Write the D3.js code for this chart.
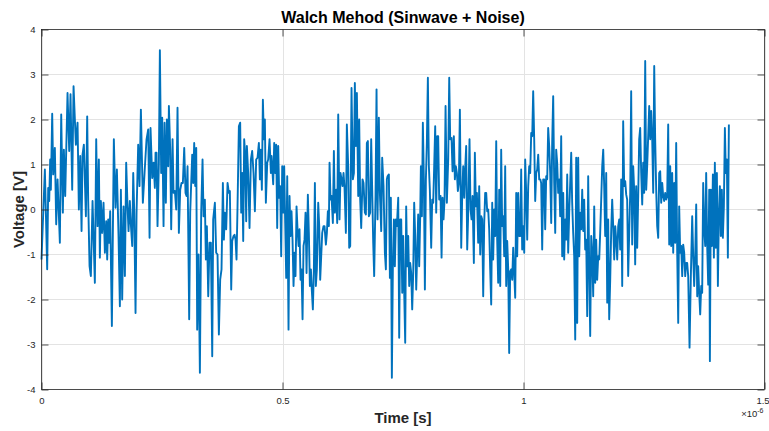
<!DOCTYPE html>
<html>
<head>
<meta charset="utf-8">
<script src="https://cdn.jsdelivr.net/npm/d3@7"></script>
<style>
  html, body { margin: 0; padding: 0; background: #fff; }
  svg { display: block; font-family: "Liberation Sans", Arial, Helvetica, sans-serif; }
</style>
</head>
<body>
<svg id="chart" width="769" height="431"></svg>
<script>
// ---- labels and ticks ----
const titleText = "Walch Mehod (Sinwave + Noise)";
const xLabel = "Time [s]";
const yLabel = "Voltage [V]";
const xTicks = [0, 0.5e-6, 1e-6, 1.5e-6];
const yTicks = [-4, -3, -2, -1, 0, 1, 2, 3, 4];
const xDomain = [0, 1.5e-6];
const yDomain = [-4, 4];

// ---- recorded signal: sample times (ns) and voltages (V) ----
const timeNs = [
  0, 7.0, 11.8, 13.9, 16.0, 18.0, 19.4, 22.2, 24.3, 27.7, 30.5, 33.3, 38.1, 40.9, 44.3, 46.4, 49.2, 54.0, 57.5, 60.2,
  63.7, 66.5, 71.3, 74.8, 77.5, 80.3, 83.1, 85.1, 87.9, 92.1, 94.8, 96.9, 99.7, 102.4, 105.9, 110.7, 113.5, 116.3,
  119.0, 121.1, 123.2, 125.9, 128.7, 131.5, 134.2, 136.3, 138.4, 140.5, 142.5, 146.0, 150.1, 153.6, 156.4, 159.8,
  162.6, 164.7, 167.4, 170.2, 173.0, 175.7, 178.5, 180.6, 183.3, 185.4, 188.2, 190.3, 192.3, 195.1, 197.2, 200.6,
  203.4, 206.2, 210.3, 213.8, 217.9, 221.4, 224.2, 226.2, 229.7, 232.5, 235.2, 236.6,
  238.7, 240.7, 243.5, 245.6, 248.3, 250.4, 253.2, 255.3, 258.0, 260.1, 262.9, 264.3, 267.0, 269.1, 271.9, 273.9,
  276.7, 279.5, 282.2, 285.0, 287.8, 290.5, 293.3, 296.1, 298.8, 300.9, 303.0, 306.4, 308.5, 310.6, 312.7, 314.7,
  316.8, 318.9, 321.0, 323.0, 325.8, 328.6, 331.3, 334.1, 336.2, 338.9, 341.0, 343.1, 345.9, 348.6, 351.4, 354.2, 356.2,
  359.7, 362.4, 365.2, 368.0, 370.7, 373.5, 376.3, 378.4, 380.4, 383.2, 386.0, 388.7, 390.8, 393.6, 395.6, 398.4,
  400.5, 402.6, 404.6, 406.7, 409.5, 412.2, 414.3, 416.4, 418.5, 420.5, 422.6, 424.7, 426.1, 428.8, 431.6, 434.4,
  437.1, 439.9, 442.7, 445.4, 448.2, 451.0, 453.1, 455.1, 457.2, 459.3, 461.4, 463.4, 465.5, 468.3, 470.3, 473.1, 475.9, 477.3,
  480.7, 482.8, 484.9, 486.9, 489.0, 491.1, 493.2, 495.2, 497.3, 499.4, 501.5, 503.5, 505.6, 507.7, 509.8, 512.5,
  514.6, 516.7, 518.7, 520.8, 522.9, 525.0, 527.0, 529.1, 531.2, 533.3, 535.3, 537.4, 539.5, 541.6, 543.6, 545.7,
  547.8, 549.9, 552.6, 554.7, 556.8, 558.9, 560.9, 563.0, 565.1, 567.2, 569.2, 571.3, 574.1, 576.2, 578.2, 580.3,
  582.4, 585.1, 587.2, 590.0, 592.1, 594.1, 596.2, 597.6,
  599.7, 601.7, 604.5, 606.6, 608.6, 611.4, 613.5, 615.6, 618.3, 620.4, 622.5, 624.5, 626.6, 628.7, 631.5, 633.5,
  636.3, 638.4, 640.5, 643.2, 646.0, 648.1, 650.1, 652.2, 654.3, 657.1, 659.1, 661.2, 663.3, 666.0, 668.1, 670.9,
  673.0, 675.0, 677.1, 679.2, 681.9, 684.0, 686.1, 688.2, 690.2, 693.0, 695.1, 697.2, 699.9, 702.0, 704.8, 706.8,
  709.6, 712.4, 714.5, 716.5, 717.9,
  720.7, 722.8, 724.8, 726.9, 729.0, 731.1, 733.1, 735.2, 737.3, 740.1, 742.1, 744.2, 746.3, 748.4, 750.4, 752.5,
  754.6, 756.6, 758.7, 760.8, 762.9, 764.9, 767.0, 769.1, 771.2, 773.2, 775.3, 777.4, 779.5, 781.5, 783.6, 785.7,
  787.1, 789.2, 791.2, 793.3, 795.4, 797.5, 799.5, 801.6, 803.7, 805.7, 808.5, 810.6, 812.7, 814.7, 816.8, 818.9,
  821.0, 823.0, 825.1, 827.9, 830.0, 832.0, 834.1, 836.2, 838.3,
  841.0, 843.8, 845.9, 847.9, 850.7, 852.8, 855.5, 857.6, 859.7, 861.8, 863.8, 865.9, 868.0, 870.8, 872.8, 874.9,
  877.0, 879.1, 881.1, 883.2, 885.3, 888.0, 890.1, 892.2, 894.3, 897.0, 899.1, 901.2, 903.3, 906.0, 908.1, 910.2,
  912.3, 914.3, 916.4, 918.5, 920.5, 922.6, 924.7, 926.8, 928.8, 930.9, 933.0, 935.1, 937.1, 939.2, 941.3, 943.4,
  945.4, 947.5, 949.6, 951.7, 953.7, 955.8, 957.9, 960.0,
  962.0, 964.1, 966.2, 968.3, 970.3, 972.4, 974.5, 976.6, 978.6, 980.7, 982.8, 984.9, 986.9, 989.0, 991.1, 993.2,
  995.2, 997.3, 999.4, 1001.5, 1003.5, 1005.6, 1007.7, 1009.8, 1011.8, 1013.9, 1016.0, 1018.1, 1020.1, 1022.2,
  1024.3, 1026.4, 1028.4, 1030.5, 1032.6, 1034.7, 1036.7, 1038.8, 1040.9, 1043.0, 1045.0, 1047.1, 1049.2, 1051.2,
  1053.3, 1055.4, 1057.5, 1059.5, 1061.6, 1063.7, 1065.8, 1067.8, 1069.9, 1072.0, 1074.1, 1076.1, 1078.2, 1080.3,
  1082.4, 1084.4, 1086.5, 1088.6, 1090.7, 1092.7, 1094.8, 1096.9, 1099.0, 1101.0, 1103.1, 1105.2, 1107.3, 1109.3,
  1111.4, 1113.5, 1115.6, 1117.6, 1119.7, 1121.8, 1123.9, 1125.9, 1128.0, 1130.1, 1132.2, 1134.2, 1136.3, 1138.4,
  1140.5, 1142.5, 1144.6, 1146.7, 1148.8, 1150.8, 1152.9, 1155.0, 1157.1, 1159.1, 1161.2, 1163.3, 1165.4, 1167.4,
  1169.5, 1171.6, 1173.7, 1175.7, 1177.8, 1179.9, 1182.0, 1184.0, 1186.1, 1188.2, 1190.3, 1192.3, 1194.4, 1196.5,
  1198.6, 1200.6,
  1202.7, 1204.8, 1206.8, 1208.9, 1211.0, 1213.1, 1215.1, 1217.2, 1219.3, 1221.4, 1223.4, 1225.5, 1227.6, 1229.7,
  1231.7, 1233.8, 1235.9, 1238.0, 1240.0, 1242.1, 1244.2, 1246.3, 1248.3, 1250.4, 1252.5, 1254.6, 1256.6, 1258.7,
  1260.8, 1262.9, 1264.9, 1267.0, 1269.1, 1271.2, 1273.2, 1275.3, 1277.4, 1279.5, 1281.5, 1283.6, 1285.7, 1287.8,
  1289.8, 1291.9, 1294.0, 1296.1, 1298.1, 1300.2, 1302.3, 1304.4, 1306.4, 1308.5, 1310.6, 1312.7, 1314.7, 1316.8,
  1318.9, 1321.0,
  1323.0, 1325.1, 1327.2, 1329.3, 1331.3, 1333.4, 1335.5, 1337.5, 1339.6, 1341.7, 1344.5, 1347.2, 1350.0, 1352.1,
  1354.1, 1356.2, 1358.3, 1360.4, 1362.4, 1364.5, 1366.6, 1368.7, 1370.7, 1372.8, 1374.9, 1377.0, 1379.0, 1381.1,
  1383.2, 1385.3, 1386.7, 1388.7, 1390.8, 1392.9, 1395.0, 1397.0, 1399.1, 1401.2, 1403.3, 1405.3, 1407.4, 1409.5,
  1411.5, 1413.6, 1415.7, 1417.8, 1419.8, 1421.9, 1424.0, 1426.1
];

const voltage = [
  -1.11, 0.89, -1.33, 0.48, 0.19, 1.11, 0.44, 2.13, 0.78, 1.37, -0.33, 0.67, -0.74, 2.11, -0.07, 1.33, 0.30, 2.59, 1.30, 2.56,
  0.44, 2.74, 1.44, 1.93, 0.00, 1.19, -0.48, 1.22, 1.44, -0.15, 2.07, 0.19, -1.26, -1.48, 0.19, -1.63, 1.56, -0.37,
  1.11, -1.07, 0.19, -0.52, 0.15, -0.96, -0.26, -1.11, -0.22, -0.74, -0.04, -2.59, 1.56, 0.04, 0.89, -0.59,
  -2.15, 0.44, -2.00, 0.07, -1.48, 1.04, 0.07, -0.48, 0.19, -0.33, -0.81, 0.81, 0.00, -2.30, -0.07, 1.44,
  0.52, 2.22, 0.15, 0.81, 1.56, 1.78, -0.63, 1.81, 0.70, 1.04, 0.48, 1.26,
  1.26, -0.37, 1.04, 3.54, 0.81, 2.04, -0.37, 1.93, 0.15, 2.00, 0.96, 2.30, 1.33, -0.44, 1.56, 0.37,
  0.41, 0.00, 2.26, -0.52, 0.44, 0.59, 0.59, 1.37, 0.37, 0.30, 0.96, -2.44, -0.07, 0.59, 1.22, 0.59,
  1.48, 0.52, 1.37, -2.67, -1.00, -3.63, -0.07, 1.11, -0.15, 0.22, -1.11, -0.37, -1.93, -0.74, -0.74, -3.26, -0.22,
  0.15, -0.96, -1.00, -2.78, -1.56, -1.33, 0.59, -0.67, -0.07, -0.44, 0.59, 0.37, 0.41, -1.78, -0.70, -0.59,
  -0.56, -0.67, -1.11, 0.07, 1.85, 1.93, -0.07, 0.81, -0.70, 1.56, 1.22, -0.26, 1.41, 0.81, -0.41, 1.11,
  1.30, 0.81, -0.04, 1.11, 1.15, 1.48, 0.67, 1.33, 0.44, 2.44, 1.56, 2.00, 0.15, 1.04, 1.11, 1.56, 0.81, 1.19,
  0.56, 1.48, 0.81, 1.44, -0.41, 1.41, 0.26, 0.52, -1.04, 0.96, -0.07, 0.96, -0.30, -1.52, 0.74, -2.67,
  0.30, -0.59, -0.04, -0.67, -1.70, -0.96, -1.48, 0.07, -0.44, -0.81, -0.44, -1.56, -1.33, -2.44, -0.81, -0.67,
  -0.07, -1.41, 0.33, -0.52, -1.70, -1.33, -1.81, -2.22, -1.33, 0.59, -1.70, -1.33, 0.15, -0.37, -1.56, -1.04,
  -0.52, -0.37, -0.37, -0.78, -0.52, -0.04, -0.37, 1.04,
  0.22, 0.30, -0.30, 1.30, -0.07, 0.44, -0.30, 2.11, -0.22, 0.81, 0.67, 0.52, 0.81, 0.48, -0.52, 1.89,
  0.96, -0.85, -0.81, 2.70, 0.67, 0.81, 2.81, 1.41, 2.59, 0.30, 2.00, 0.22, -0.41, 0.67, 0.59, -0.07,
  -0.11, 1.48, 1.52, -0.15, -0.07, 1.56, 0.44, -0.74, -1.48, 0.30, 2.67, -0.22, 2.04, 0.37, -0.48, 1.15,
  0.52, -0.96, -1.33, 0.67, 0.74,
  0.78, -1.52, 0.26, -3.74, -1.26, -0.22, -1.26, -0.22, -0.37, 0.26, -2.85, -0.22, -0.22, -1.85, -0.59, -1.85,
  -2.96, 0.07, -1.26, -0.59, -1.70, -1.19, -1.41, -2.22, -1.41, 0.15, -0.59, -1.78, -0.96, -0.11, -1.26, -0.15,
  0.96, -0.15, 1.93, 0.67, -1.78, 0.67, 1.48, 2.93, 0.96, 0.44, -0.85, 0.22, 0.15, 0.96, 1.85, -0.07,
  1.63, 1.63, 0.22, 0.30, -1.07, 0.26, -0.22, 0.22, 2.30,
  0.15, 1.11, 2.93, 1.56, 1.59, 0.85, 1.63, 0.67, 0.96, 0.81, 0.41, 0.59, 2.22, -0.85, 0.30, 0.96,
  0.26, 0.93, 1.41, -0.89, -0.07, 1.56, 0.00, -0.22, 0.30, -1.19, 1.26, 0.07, 0.37, -0.74, 0.52, -1.00,
  -0.15, -0.22, -1.93, -0.30, 0.37, 0.37, -0.04, 0.00, -0.44, -1.33, -2.11, 0.15, -1.11, 0.00, -0.59, 1.52,
  -0.67, -1.63, 0.44, -1.70, 1.33, -0.37, -0.15, -1.04,
  0.96, -1.70, -0.70, -1.33, -3.19, -1.37, -1.33, -1.56, -0.85, -1.41, -1.96, 0.37, -1.04, 0.37, -0.59, -0.59,
  0.89, -0.89, -0.37, -0.96, 1.11, 0.37, -0.67, 0.52, 0.96, 0.81, 1.70, 1.63, 2.63, 1.56,
  0.19, 0.81, 0.89, 1.22, 0.67, 0.67, 0.59, -0.89, 0.67, 0.67, -0.44, 0.74, 0.67, 1.81,
  1.41, 0.81, -0.30, 1.48, 2.52, 0.59, -0.52, 1.33, 1.04, 0.37, 0.67, -0.15, 1.63, -1.04,
  0.37, -1.11, -0.22, -0.67, 0.78, -0.96, -0.07, 0.59, 1.26, 0.15, -0.52, -1.04, -2.89, 1.15,
  -2.52, 1.15, -1.04, -0.07, -0.44, 0.44, -0.48, 0.22, -0.89, -0.67, -2.37, 0.74, -1.26, -2.81,
  -0.59, -0.96, -1.93, 0.07, -1.63, -0.67, -1.56, -1.04, -1.11, -0.52, 0.22, 0.96, 1.33, 0.52,
  -0.59, 0.81, -2.07, -0.22, -2.44, -1.56, -0.44, 0.22, -0.37, -1.11, -0.37, -0.67, -1.11, -0.37,
  -0.22, -0.89,
  0.67, -1.70, 1.96, 0.52, 0.63, 0.33, 0.22, -1.48, -0.52, 0.37, 2.63, -0.78, 0.96, 0.41,
  -1.22, 0.52, -0.85, 0.30, 1.56, 1.81, 0.81, 0.11, 1.04, 0.37, 3.30, 0.44, 0.96, 1.63,
  2.30, 1.56, 2.19, 1.59, 0.37, 3.19, 1.56, 0.44, -0.37, -0.63, 0.81, 0.85, 0.15, 0.59,
  0.30, 0.19, 0.37, 0.22, 0.30, 1.89, -0.78, 0.96, -0.81, 0.81, -0.96, 0.59, -0.74, 1.48,
  -0.96, -2.52,
  0.07, -0.96, -0.81, -1.48, -0.78, -0.96, -1.48, -1.19, -1.19, -1.48, -3.07, -1.48, -0.15, -1.04,
  -1.70, -1.04, 0.11, -1.93, -1.26, -1.85, -2.33, -1.70, -1.85, 0.59, -0.44, -0.81, 0.81, -0.81,
  -1.67, 0.44, -3.37, 0.44, -0.81, 0.78, -1.07, 1.04, -0.85, 0.81, -1.70, -0.15, 0.52, -0.59,
  0.44, -0.63, 0.07, 1.81, 0.81, 1.11, -1.07, 1.89
];

// ---- layout ----
const W = 769, H = 431;
const plot = { left: 41.5, right: 764.5, top: 29.5, bottom: 389.5 };
const ink = "#262626";

const svg = d3.select("#chart");
svg.append("rect").attr("width", W).attr("height", H).attr("fill", "#fff");

const x = d3.scaleLinear().domain(xDomain).range([plot.left, plot.right]);
const y = d3.scaleLinear().domain(yDomain).range([plot.bottom, plot.top]);

// grid
const grid = svg.append("g").attr("stroke", "#e3e3e3").attr("stroke-width", 1);
grid.selectAll("line.gx").data(xTicks).join("line")
  .attr("x1", d => Math.round(x(d)) + 0.5).attr("x2", d => Math.round(x(d)) + 0.5)
  .attr("y1", plot.top).attr("y2", plot.bottom);
grid.selectAll("line.gy").data(yTicks).join("line")
  .attr("x1", plot.left).attr("x2", plot.right)
  .attr("y1", d => y(d)).attr("y2", d => y(d));

// signal trace
const series = timeNs.map((t, i) => ({ t: t * 1e-9, v: voltage[i] }));
const line = d3.line().x(d => x(d.t)).y(d => y(d.v));
svg.append("path")
  .datum(series)
  .attr("fill", "none")
  .attr("stroke", "#0072BD")
  .attr("stroke-width", 1.9)
  .attr("stroke-linejoin", "round")
  .attr("d", line);

// axes: ticks point inward on all four sides (boxed axes)
const fmtX = d => d3.format("~g")(+(d * 1e6).toFixed(3));
const fmtY = d => String(d);

function styleAxis(g) {
  g.select(".domain").remove();
  g.selectAll(".tick line").attr("stroke", ink).attr("stroke-width", 0.8);
  g.selectAll(".tick text").attr("fill", ink).attr("font-size", "9.5px")
    .attr("font-family", "'Liberation Sans', Arial, Helvetica, sans-serif");
}

const xAxisG = svg.append("g").attr("transform", `translate(0,${plot.bottom})`)
  .call(d3.axisBottom(x).tickValues(xTicks).tickFormat(fmtX).tickSize(-7).tickPadding(8))
  .call(styleAxis);
// keep the last label inside the figure edge
xAxisG.selectAll(".tick text").filter(d => d === xDomain[1]).attr("dx", "-2");

svg.append("g").attr("transform", `translate(0,${plot.top})`)
  .call(d3.axisTop(x).tickValues(xTicks).tickFormat("").tickSize(-7))
  .call(styleAxis);
svg.append("g").attr("transform", `translate(${plot.left},0)`)
  .call(d3.axisLeft(y).tickValues(yTicks).tickFormat(fmtY).tickSize(-7).tickPadding(6))
  .call(styleAxis);
svg.append("g").attr("transform", `translate(${plot.right},0)`)
  .call(d3.axisRight(y).tickValues(yTicks).tickFormat("").tickSize(-7))
  .call(styleAxis);

// axes box
svg.append("rect")
  .attr("x", plot.left).attr("y", plot.top)
  .attr("width", plot.right - plot.left).attr("height", plot.bottom - plot.top)
  .attr("fill", "none").attr("stroke", ink).attr("stroke-width", 0.8);

// exponent multiplier for the time axis
const expo = svg.append("text")
  .attr("x", plot.right - 1).attr("y", 417)
  .attr("text-anchor", "end")
  .attr("fill", ink).attr("font-size", "9.5px");
expo.append("tspan").text("\u00d710");
expo.append("tspan").attr("font-size", "7px").attr("dy", -4.5).text("-6");

// title and axis labels
svg.append("text")
  .attr("x", (plot.left + plot.right) / 2).attr("y", 23)
  .attr("text-anchor", "middle")
  .attr("font-size", "16px").attr("font-weight", "bold").attr("fill", "#000")
  .text(titleText);

svg.append("text")
  .attr("x", (plot.left + plot.right) / 2).attr("y", 423)
  .attr("text-anchor", "middle")
  .attr("font-size", "15px").attr("font-weight", "bold").attr("fill", ink)
  .text(xLabel);

svg.append("text")
  .attr("transform", `translate(23.5,${(plot.top + plot.bottom) / 2}) rotate(-90)`)
  .attr("text-anchor", "middle")
  .attr("font-size", "15px").attr("font-weight", "bold").attr("fill", ink)
  .text(yLabel);
</script>
</body>
</html>
